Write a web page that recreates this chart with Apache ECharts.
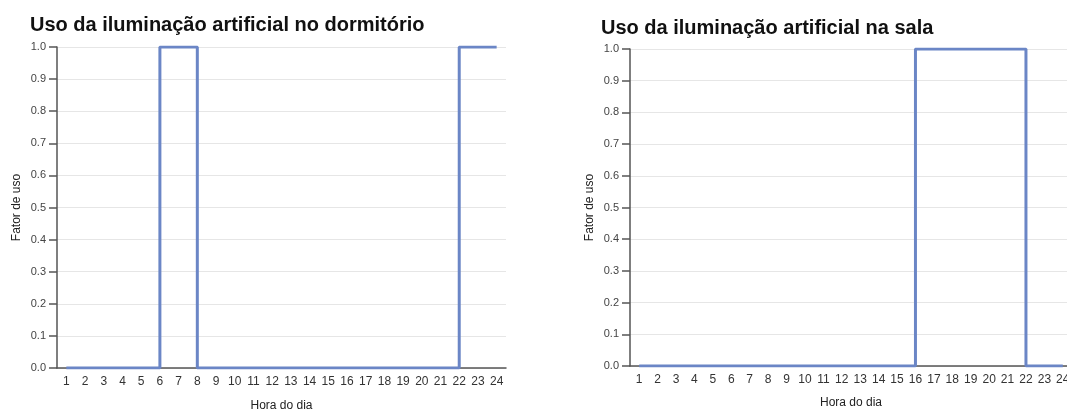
<!DOCTYPE html>
<html>
<head>
<meta charset="utf-8">
<script src="https://cdn.jsdelivr.net/npm/echarts@6/dist/echarts.min.js"></script>
<style>html,body{margin:0;padding:0;background:#fff;overflow:hidden}#c{width:1067px;height:409px}</style>
</head>
<body>
<div id="c"></div>
<script>
const hours = ['1','2','3','4','5','6','7','8','9','10','11','12','13','14','15','16','17','18','19','20','21','22','23','24'];
const dormitorio = [0,0,0,0,0,1,1,0,0,0,0,0,0,0,0,0,0,0,0,0,0,1,1,1];
const sala = [0,0,0,0,0,0,0,0,0,0,0,0,0,0,0,1,1,1,1,1,1,0,0,0];
const titles = ['Uso da iluminação artificial no dormitório', 'Uso da iluminação artificial na sala'];
const xName = 'Hora do dia';
const yName = 'Fator de uso';

const lineColor = '#6b86c6';
const axisColor = '#555';
const font = 'Liberation Sans, Arial, sans-serif';

function xAxis(gi, gap) {
  return {
    gridIndex: gi, type: 'category', data: hours, boundaryGap: true,
    name: xName, nameLocation: 'middle', nameGap: gap,
    nameTextStyle: {fontSize: 12, color: '#222', fontFamily: font},
    axisLine: {lineStyle: {color: axisColor, width: 1.5}},
    axisTick: {alignWithLabel: true, length: 6, lineStyle: {color: axisColor, width: 1.5}},
    axisLabel: {fontSize: 12, color: '#333', fontFamily: font, margin: 8, interval: 0},
    splitLine: {show: false}
  };
}
function yAxis(gi, gap) {
  return {
    gridIndex: gi, type: 'value', min: 0, max: 1, interval: 0.1,
    name: yName, nameLocation: 'middle', nameGap: gap, nameRotate: 90,
    nameTextStyle: {fontSize: 12, color: '#222', fontFamily: font},
    axisLine: {show: true, lineStyle: {color: axisColor, width: 1.5}},
    axisTick: {show: true, length: 8, lineStyle: {color: axisColor, width: 1.5}},
    axisLabel: {fontSize: 11, color: '#444', fontFamily: font, margin: 11, formatter: v => v.toFixed(1)},
    splitLine: {show: true, lineStyle: {color: '#e6e6e6', width: 1}}
  };
}

const chart = echarts.init(document.getElementById('c'));
chart.setOption({
  animation: false,
  title: [
    {text: titles[0], left: 25, top: 10, textStyle: {fontSize: 20, fontWeight: 'bold', color: '#111', fontFamily: font}},
    {text: titles[1], left: 596, top: 13, textStyle: {fontSize: 20, fontWeight: 'bold', color: '#111', fontFamily: font}}
  ],
  grid: [
    {left: 57, top: 47, width: 449, height: 321, outerBoundsMode: 'none', containLabel: false},
    {left: 630, top: 49, width: 442, height: 317, outerBoundsMode: 'none', containLabel: false}
  ],
  xAxis: [xAxis(0, 32), xAxis(1, 31)],
  yAxis: [yAxis(0, 34), yAxis(1, 34)],
  series: [
    {type: 'line', xAxisIndex: 0, yAxisIndex: 0, data: dormitorio, step: 'end', symbol: 'none',
     lineStyle: {color: lineColor, width: 3}},
    {type: 'line', xAxisIndex: 1, yAxisIndex: 1, data: sala, step: 'end', symbol: 'none',
     lineStyle: {color: lineColor, width: 3}}
  ]
});
</script>
</body>
</html>
